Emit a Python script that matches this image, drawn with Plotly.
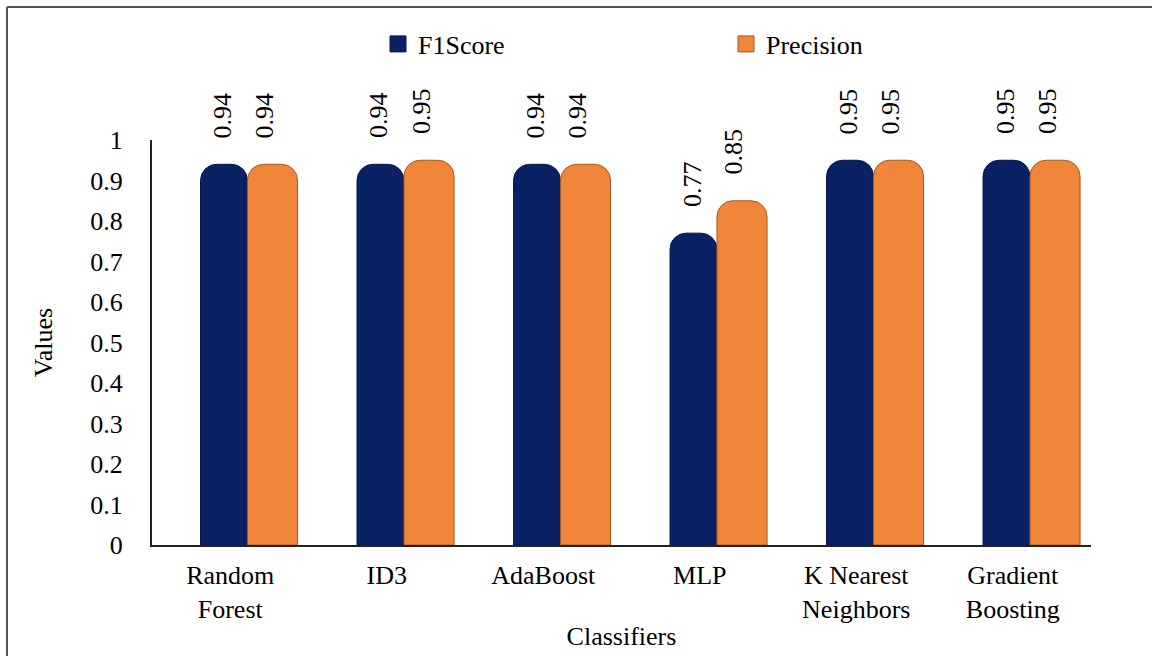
import plotly.graph_objects as go

categories = ["Random<br>Forest", "ID3", "AdaBoost", "MLP", "K Nearest<br>Neighbors", "Gradient<br>Boosting"]
f1_score = [0.94, 0.94, 0.94, 0.77, 0.95, 0.95]
precision = [0.94, 0.95, 0.94, 0.85, 0.95, 0.95]
y_ticks = [0, 0.1, 0.2, 0.3, 0.4, 0.5, 0.6, 0.7, 0.8, 0.9, 1]
y_tick_text = ["0", "0.1", "0.2", "0.3", "0.4", "0.5", "0.6", "0.7", "0.8", "0.9", "1"]

W, H = 1152, 656
ML, MR, MT, MB = 152, 61, 140, 111
pw = W - ML - MR
ph = H - MT - MB

FONT = "Liberation Serif"
FS = 26
NAVY = "#0a2164"
ORANGE = "#f0863a"

fig = go.Figure()
fig.add_trace(go.Bar(
    name="F1Score", x=categories, y=f1_score, showlegend=False,
    marker=dict(color=NAVY, line=dict(color="#061650", width=1), cornerradius=16),
    width=0.30, offset=-0.19,
))
fig.add_trace(go.Bar(
    name="Precision", x=categories, y=precision, showlegend=False,
    marker=dict(color=ORANGE, line=dict(color="#a8561c", width=1), cornerradius=16),
    width=0.32, offset=0.11,
))
# legend entries with square symbols
fig.add_trace(go.Scatter(name="F1Score", x=[None], y=[None], mode="markers",
                         marker=dict(symbol="square", size=16, color=NAVY,
                                     line=dict(color="#061650", width=1))))
fig.add_trace(go.Scatter(name="Precision", x=[None], y=[None], mode="markers",
                         marker=dict(symbol="square", size=16, color=ORANGE,
                                     line=dict(color="#a8561c", width=1))))

# value labels (rotated), placed from the data
annotations = []
for series, dx in ((f1_score, -8), (precision, 34)):
    for cat, v in zip(categories, series):
        annotations.append(dict(
            x=cat, y=v, xref="x", yref="y", text=f"{v:.2f}", showarrow=False,
            textangle=-90, xanchor="center", yanchor="bottom", xshift=dx, yshift=24,
            font=dict(family=FONT, size=FS, color="black"),
        ))

def px_x(p):
    return (p - ML) / pw

def px_y(p):
    return (H - MB - p) / ph

shapes = [
    dict(type="line", xref="paper", yref="paper", x0=px_x(7), x1=px_x(7), y0=px_y(7), y1=px_y(H + 5),
         line=dict(color="#555555", width=2)),
    dict(type="line", xref="paper", yref="paper", x0=px_x(7), x1=px_x(W + 5), y0=px_y(7), y1=px_y(7),
         line=dict(color="#555555", width=2)),
]

fig.update_layout(
    width=W, height=H,
    margin=dict(l=ML, r=MR, t=MT, b=MB, autoexpand=False),
    paper_bgcolor="white", plot_bgcolor="white",
    font=dict(family=FONT, size=FS, color="black"),
    barmode="overlay",
    showlegend=True,
    legend=dict(orientation="h", x=px_x(378), xanchor="left", y=px_y(44), yanchor="middle",
                entrywidth=303, entrywidthmode="pixels",
                font=dict(family=FONT, size=FS, color="black")),
    xaxis=dict(
        showline=True, linecolor="#222222", linewidth=2, showgrid=False, ticks="",
        tickfont=dict(family=FONT, size=FS), ticklabelstandoff=6,
        title=dict(text="Classifiers", font=dict(family=FONT, size=FS), standoff=4),
    ),
    yaxis=dict(
        range=[0, 1], tickvals=y_ticks, ticktext=y_tick_text,
        showline=True, linecolor="#222222", linewidth=2, showgrid=False, ticks="",
        tickfont=dict(family=FONT, size=FS), ticklabelstandoff=22,
        title=dict(text="Values", font=dict(family=FONT, size=FS), standoff=30),
        zeroline=False,
    ),
    annotations=annotations,
    shapes=shapes,
)

fig.write_html("out.html")
